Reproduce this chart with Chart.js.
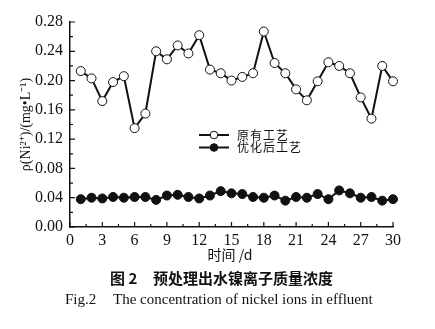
<!DOCTYPE html>
<html>
<head>
<meta charset="utf-8">
<script src="https://cdn.jsdelivr.net/npm/chart.js@4.4.0/dist/chart.umd.min.js"></script>
<style>
html, body { margin: 0; padding: 0; background: #fff; }
#wrap { width: 435px; height: 329px; position: relative; }
</style>
</head>
<body>
<div id="wrap"><canvas id="graphe" width="435" height="329"></canvas></div>
<script>
// day number (time /d)
var days = [1, 2, 3, 4, 5, 6, 7, 8, 9, 10, 11, 12, 13, 14, 15,
            16, 17, 18, 19, 20, 21, 22, 23, 24, 25, 26, 27, 28, 29, 30];
// nickel ion concentration, original process
var originalProcess = [0.213, 0.203, 0.172, 0.198, 0.206, 0.135, 0.155, 0.240, 0.229, 0.248,
                       0.237, 0.262, 0.215, 0.210, 0.200, 0.205, 0.210, 0.267, 0.224, 0.210,
                       0.188, 0.173, 0.199, 0.225, 0.220, 0.210, 0.177, 0.148, 0.220, 0.199];
// nickel ion concentration, optimised process
var optimizedProcess = [0.038, 0.040, 0.039, 0.041, 0.040, 0.041, 0.041, 0.037, 0.043, 0.044,
                        0.041, 0.039, 0.043, 0.049, 0.046, 0.045, 0.041, 0.040, 0.043, 0.036,
                        0.041, 0.040, 0.045, 0.038, 0.050, 0.046, 0.040, 0.041, 0.036, 0.038];
var seriesLabels = ['原有工艺', '优化后工艺'];
var xTicks = [0, 3, 6, 9, 12, 15, 18, 21, 24, 27, 30];
var yTicks = [0, 0.04, 0.08, 0.12, 0.16, 0.20, 0.24, 0.28];

var ink = '#111';

function toPoints(values) {
    return values.map(function (v, i) { return {x: days[i], y: v}; });
}

// inward major/minor tick marks (minor ticks halfway between the labels)
var inwardTicks = {
    id: 'inwardTicks',
    afterDraw: function (chart) {
        var ctx = chart.ctx;
        var xs = chart.scales.x, ys = chart.scales.y;
        var area = chart.chartArea;
        ctx.save();
        ctx.strokeStyle = ink;
        ctx.lineWidth = 1.2;
        ctx.beginPath();
        xTicks.forEach(function (v, i) {
            var px = xs.getPixelForValue(v);
            ctx.moveTo(px, area.bottom);
            ctx.lineTo(px, area.bottom - 5);
            if (i < xTicks.length - 1) {
                var mx = xs.getPixelForValue((v + xTicks[i + 1]) / 2);
                ctx.moveTo(mx, area.bottom);
                ctx.lineTo(mx, area.bottom - 3);
            }
        });
        yTicks.forEach(function (v, i) {
            var py = ys.getPixelForValue(v);
            ctx.moveTo(area.left, py);
            ctx.lineTo(area.left + 5, py);
            if (i < yTicks.length - 1) {
                var my = ys.getPixelForValue((v + yTicks[i + 1]) / 2);
                ctx.moveTo(area.left, my);
                ctx.lineTo(area.left + 3, my);
            }
        });
        ctx.stroke();
        ctx.restore();
    }
};

// legend with line + marker, x title and figure captions
var annotations = {
    id: 'annotations',
    afterDraw: function (chart) {
        var ctx = chart.ctx;
        ctx.save();
        // legend
        chart.data.datasets.forEach(function (ds, i) {
            var y = 135 + i * 12.5;
            ctx.strokeStyle = ink;
            ctx.lineWidth = 2;
            ctx.beginPath();
            ctx.moveTo(199, y);
            ctx.lineTo(229, y);
            ctx.stroke();
            ctx.beginPath();
            ctx.arc(214, y, 3.8, 0, Math.PI * 2);
            ctx.fillStyle = ds.pointBackgroundColor;
            ctx.fill();
            ctx.lineWidth = 1;
            ctx.stroke();
            ctx.fillStyle = ink;
            ctx.font = '12px "Noto Sans CJK SC"';
            ctx.letterSpacing = '1px';
            ctx.textBaseline = 'middle';
            ctx.textAlign = 'left';
            ctx.fillText(ds.label, 237, y);
        });
        ctx.letterSpacing = '0px';
        // x axis title
        ctx.fillStyle = ink;
        ctx.textAlign = 'center';
        ctx.textBaseline = 'middle';
        ctx.font = '14px "Noto Sans CJK SC"';
        ctx.fillText('时间 /d', 230, 255);
        // captions
        ctx.textAlign = 'left';
        ctx.font = 'bold 15px "Noto Sans CJK SC"';
        ctx.fillText('图 2', 110, 278);
        ctx.fillText('预处理出水镍离子质量浓度', 153, 278);
        ctx.font = '15px "Liberation Serif"';
        ctx.fillText('Fig.2', 65, 300);
        ctx.fillText('The concentration of nickel ions in effluent', 113, 300);
        ctx.restore();
    }
};

var ctx = document.getElementById('graphe').getContext('2d');
var myChart = new Chart(ctx, {
    type: 'line',
    data: {
        datasets: [{
            label: seriesLabels[0],
            data: toPoints(originalProcess),
            borderColor: ink,
            borderWidth: 2,
            pointRadius: 4.5,
            pointBorderWidth: 1,
            pointBackgroundColor: '#fff',
            pointBorderColor: ink,
            tension: 0,
            clip: false
        }, {
            label: seriesLabels[1],
            data: toPoints(optimizedProcess),
            borderColor: ink,
            borderWidth: 2,
            pointRadius: 4.5,
            pointBorderWidth: 1,
            pointBackgroundColor: ink,
            pointBorderColor: ink,
            tension: 0,
            clip: false
        }]
    },
    options: {
        responsive: false,
        animation: false,
        events: [],
        layout: {padding: {left: 0, right: 42, top: 22, bottom: 0}},
        plugins: {legend: {display: false}, tooltip: {enabled: false}},
        scales: {
            x: {
                type: 'linear',
                min: 0,
                max: 30,
                afterFit: function (scale) { scale.height = 102; },
                afterBuildTicks: function (scale) {
                    scale.ticks = xTicks.map(function (v) { return {value: v}; });
                },
                grid: {display: false, drawTicks: false, tickLength: 0},
                border: {display: true, color: ink, width: 1.5},
                ticks: {
                    padding: 4,
                    color: ink,
                    maxRotation: 0,
                    autoSkip: false,
                    font: {family: '"Liberation Serif"', size: 16}
                }
            },
            y: {
                type: 'linear',
                min: 0,
                max: 0.28,
                afterFit: function (scale) { scale.width = 70; },
                afterBuildTicks: function (scale) {
                    scale.ticks = yTicks.map(function (v) { return {value: v}; });
                },
                grid: {display: false, drawTicks: false, tickLength: 0},
                border: {display: true, color: ink, width: 1.5},
                ticks: {
                    padding: 7,
                    color: ink,
                    font: {family: '"Liberation Serif"', size: 16},
                    callback: function (v) { return v.toFixed(2); }
                },
                title: {
                    display: true,
                    text: 'ρ(Ni²⁺)/(mg•L⁻¹)',
                    color: ink,
                    padding: {top: 18, bottom: 0},
                    font: {family: '"Liberation Serif"', size: 14}
                }
            }
        }
    },
    plugins: [inwardTicks, annotations]
});
</script>
</body>
</html>
